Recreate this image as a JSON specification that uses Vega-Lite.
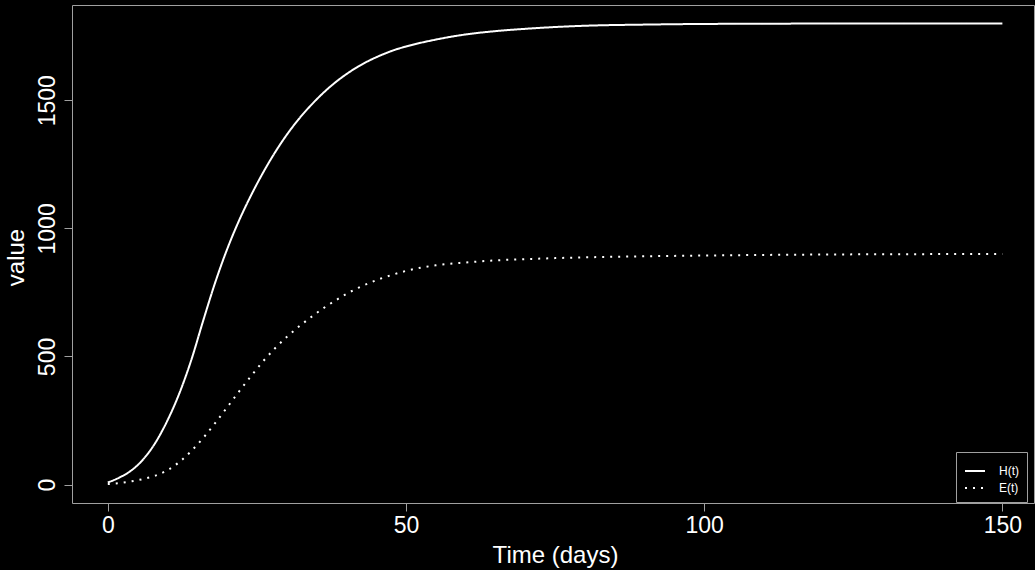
{
  "$schema": "https://vega.github.io/schema/vega-lite/v6.json",
  "autosize": {"type": "none"},
  "padding": {"left": 72, "top": 5, "right": 1, "bottom": 67},
  "width": 962,
  "height": 498,
  "background": "#000000",
  "config": {
    "view": {"stroke": "#a0a0a0", "strokeWidth": 1},
    "font": "Liberation Sans",
    "axis": {
      "domain": false,
      "grid": false,
      "tickColor": "#a0a0a0",
      "tickSize": 8,
      "tickWidth": 1,
      "labelColor": "#ffffff",
      "labelFont": "Liberation Sans",
      "labelFontSize": 23,
      "titleColor": "#ffffff",
      "titleFont": "Liberation Sans",
      "titleFontSize": 24,
      "titleFontWeight": "normal"
    }
  },
  "data": {
    "values": [
      {"t": 0, "v": 8, "s": "H(t)"},
      {"t": 2, "v": 28, "s": "H(t)"},
      {"t": 4, "v": 56, "s": "H(t)"},
      {"t": 6, "v": 100, "s": "H(t)"},
      {"t": 8, "v": 164, "s": "H(t)"},
      {"t": 10, "v": 250, "s": "H(t)"},
      {"t": 12, "v": 356, "s": "H(t)"},
      {"t": 14, "v": 486, "s": "H(t)"},
      {"t": 16, "v": 640, "s": "H(t)"},
      {"t": 18, "v": 788, "s": "H(t)"},
      {"t": 20, "v": 918, "s": "H(t)"},
      {"t": 22, "v": 1030, "s": "H(t)"},
      {"t": 24, "v": 1128, "s": "H(t)"},
      {"t": 26, "v": 1216, "s": "H(t)"},
      {"t": 28, "v": 1295, "s": "H(t)"},
      {"t": 30, "v": 1365, "s": "H(t)"},
      {"t": 32, "v": 1426, "s": "H(t)"},
      {"t": 34, "v": 1479, "s": "H(t)"},
      {"t": 36, "v": 1526, "s": "H(t)"},
      {"t": 38, "v": 1567, "s": "H(t)"},
      {"t": 40, "v": 1602, "s": "H(t)"},
      {"t": 42, "v": 1632, "s": "H(t)"},
      {"t": 44, "v": 1657, "s": "H(t)"},
      {"t": 46, "v": 1678, "s": "H(t)"},
      {"t": 48, "v": 1696, "s": "H(t)"},
      {"t": 50, "v": 1710, "s": "H(t)"},
      {"t": 55, "v": 1737, "s": "H(t)"},
      {"t": 60, "v": 1757, "s": "H(t)"},
      {"t": 65, "v": 1770, "s": "H(t)"},
      {"t": 70, "v": 1779, "s": "H(t)"},
      {"t": 75, "v": 1786, "s": "H(t)"},
      {"t": 80, "v": 1791, "s": "H(t)"},
      {"t": 90, "v": 1795.5, "s": "H(t)"},
      {"t": 100, "v": 1798, "s": "H(t)"},
      {"t": 120, "v": 1799.5, "s": "H(t)"},
      {"t": 150, "v": 1800, "s": "H(t)"},
      {"t": 0, "v": 2, "s": "E(t)"},
      {"t": 2, "v": 6, "s": "E(t)"},
      {"t": 4, "v": 13, "s": "E(t)"},
      {"t": 6, "v": 22, "s": "E(t)"},
      {"t": 8, "v": 35, "s": "E(t)"},
      {"t": 10, "v": 56, "s": "E(t)"},
      {"t": 12, "v": 88, "s": "E(t)"},
      {"t": 14, "v": 131, "s": "E(t)"},
      {"t": 16, "v": 182, "s": "E(t)"},
      {"t": 18, "v": 240, "s": "E(t)"},
      {"t": 20, "v": 301, "s": "E(t)"},
      {"t": 22, "v": 363, "s": "E(t)"},
      {"t": 24, "v": 423, "s": "E(t)"},
      {"t": 26, "v": 480, "s": "E(t)"},
      {"t": 28, "v": 531, "s": "E(t)"},
      {"t": 30, "v": 576, "s": "E(t)"},
      {"t": 32, "v": 616, "s": "E(t)"},
      {"t": 34, "v": 652, "s": "E(t)"},
      {"t": 36, "v": 686, "s": "E(t)"},
      {"t": 38, "v": 716, "s": "E(t)"},
      {"t": 40, "v": 744, "s": "E(t)"},
      {"t": 42, "v": 768, "s": "E(t)"},
      {"t": 44, "v": 788, "s": "E(t)"},
      {"t": 46, "v": 806, "s": "E(t)"},
      {"t": 48, "v": 821, "s": "E(t)"},
      {"t": 50, "v": 834, "s": "E(t)"},
      {"t": 55, "v": 856, "s": "E(t)"},
      {"t": 60, "v": 867, "s": "E(t)"},
      {"t": 65, "v": 875, "s": "E(t)"},
      {"t": 70, "v": 880, "s": "E(t)"},
      {"t": 75, "v": 884, "s": "E(t)"},
      {"t": 80, "v": 887, "s": "E(t)"},
      {"t": 90, "v": 891, "s": "E(t)"},
      {"t": 100, "v": 894, "s": "E(t)"},
      {"t": 120, "v": 898, "s": "E(t)"},
      {"t": 150, "v": 900, "s": "E(t)"}
    ]
  },
  "mark": {"type": "line", "color": "#ffffff", "strokeWidth": 2, "interpolate": "monotone", "clip": true},
  "encoding": {
    "x": {
      "field": "t",
      "type": "quantitative",
      "scale": {"domain": [-6, 155.3], "nice": false, "zero": false},
      "axis": {
        "values": [0, 50, 100, 150],
        "format": "d",
        "title": "Time (days)",
        "labelPadding": 3,
        "titleX": 483,
        "titleY": 59,
        "titleBaseline": "alphabetic",
        "titleAnchor": "middle"
      }
    },
    "y": {
      "field": "v",
      "type": "quantitative",
      "scale": {"domain": [-72, 1872], "nice": false, "zero": false},
      "axis": {
        "values": [0, 500, 1000, 1500],
        "format": "d",
        "title": "value",
        "labelAngle": -90,
        "labelAlign": "center",
        "labelBaseline": "alphabetic",
        "labelPadding": 10,
        "titleAngle": -90,
        "titleX": -49,
        "titleY": 252,
        "titleBaseline": "alphabetic",
        "titleAlign": "center"
      }
    },
    "strokeDash": {
      "field": "s",
      "type": "nominal",
      "scale": {"domain": ["H(t)", "E(t)"], "range": [[1, 0], [2, 6]]},
      "legend": {
        "title": null,
        "orient": "none",
        "legendX": 884,
        "legendY": 447,
        "direction": "vertical",
        "strokeColor": "#a0a0a0",
        "fillColor": "#000000",
        "padding": 8,
        "symbolType": "stroke",
        "symbolStrokeColor": "#ffffff",
        "symbolStrokeWidth": 2,
        "symbolSize": 400,
        "labelColor": "#ffffff",
        "labelFont": "Liberation Sans",
        "labelFontSize": 12,
        "labelOffset": 13,
        "rowPadding": 0
      }
    }
  }
}
